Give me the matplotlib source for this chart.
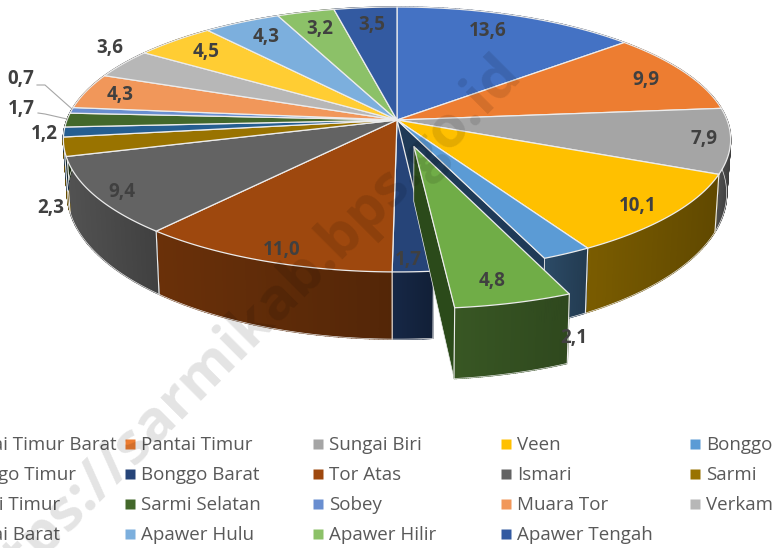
import numpy as np
import matplotlib
matplotlib.use('Agg')
import matplotlib.pyplot as plt
from matplotlib.colors import to_rgb

plt.rcParams['font.family'] = ['Open Sans', 'DejaVu Sans']

districts = ['Pantai Timur Barat', 'Pantai Timur', 'Sungai Biri', 'Veen', 'Bonggo',
             'Bonggo Timur', 'Bonggo Barat', 'Tor Atas', 'Ismari', 'Sarmi',
             'Sarmi Timur', 'Sarmi Selatan', 'Sobey', 'Muara Tor', 'Verkam',
             'Pantai Barat', 'Apawer Hulu', 'Apawer Hilir', 'Apawer Tengah']
shares = [13.6, 9.9, 7.9, 10.1, 2.1, 4.8, 1.7, 11.0, 9.4, 2.3,
          1.2, 1.7, 0.7, 4.3, 3.6, 4.5, 4.3, 3.2, 3.5]
colors = ['#4472C4', '#ED7D31', '#A5A5A5', '#FFC000', '#5B9BD5', '#70AD47', '#264478',
          '#9E480E', '#636363', '#997300', '#255E91', '#43682B', '#698ED0', '#F1975A',
          '#B7B7B7', '#FFCD33', '#7CAFDD', '#8CC168', '#335AA1']

# how dark the outer wall of a slice is
side_shade = {7: 0.6, 8: 0.74, 6: 0.52, 9: 0.6}
# where the value labels sit, in pixels
label_xy = [(488, 31), (646, 80), (704, 139), (638, 206), (574, 338), (492, 281),
            (408, 260), (282, 250), (122, 192), (51, 208), (44, 134), (21, 109),
            (21, 79), (120, 95), (110, 48), (206, 52), (266, 37), (320, 29), (372, 25)]

CX, CY = 397, 120
KX, KY = 330, 129.6
PERSP = 0.147
EXPLODED = 5
EXPLODE_BY = 0.205
EDGE = '#ececec'


def project(u, v, lower=False):
    w = 1 + PERSP * v
    x = KX * u / w
    y = -KY * v / w
    if lower:
        x = x * 0.988
        y = y * 1.1 + 52
    return CX + x, CY + y


def shade(color, f):
    return tuple(min(1, c * f) for c in to_rgb(color))


fig = plt.figure(figsize=(7.78, 5.48), dpi=100)
ax = fig.add_axes([0, 0, 1, 1])
ax.set_xlim(0, 778)
ax.set_ylim(548, 0)
ax.axis('off')

edges = np.cumsum([0] + shares) / sum(shares) * 2 * np.pi


def slice_offset(i):
    if i != EXPLODED:
        return 0, 0
    mid = (edges[i] + edges[i + 1]) / 2
    return EXPLODE_BY * np.sin(mid), EXPLODE_BY * np.cos(mid)


def arc(i, lower=False, n=60):
    t = np.linspace(edges[i], edges[i + 1], n)
    ou, ov = slice_offset(i)
    return project(np.sin(t) + ou, np.cos(t) + ov, lower)


def side_strips(i, base, spread, z):
    xt, yt = arc(i)
    xb, yb = arc(i, lower=True)
    n = len(xt) - 1
    for k in range(n):
        # lighter on the left of each wall, darker on the right
        pos = (xt[k] - xt.min()) / max(xt.max() - xt.min(), 1)
        c = shade(colors[i], base * (1 + spread / 2 - spread * pos))
        ax.fill([xt[k], xt[k + 1], xb[k + 1], xb[k]], [yt[k], yt[k + 1], yb[k + 1], yb[k]],
                fc=c, ec=c, lw=1.0, zorder=z)
    for k in (0, n):
        ax.plot([xt[k], xb[k]], [yt[k], yb[k]], color=EDGE, lw=0.8, zorder=z)
    ax.plot(xb, yb, color=EDGE, lw=0.5, zorder=z)


def draw_wall(i, angle, color, z):
    ou, ov = slice_offset(i)
    x0, y0 = project(ou, ov)
    x1, y1 = project(np.sin(angle) + ou, np.cos(angle) + ov)
    x2, y2 = project(np.sin(angle) + ou, np.cos(angle) + ov, lower=True)
    x3, y3 = project(ou, ov, lower=True)
    ax.fill([x0, x1, x2, x3], [y0, y1, y2, y3], color=color, ec=EDGE, lw=0.5, zorder=z)


def draw_top(i, z):
    xt, yt = arc(i)
    ou, ov = slice_offset(i)
    x0, y0 = project(ou, ov)
    ax.fill(np.r_[x0, xt], np.r_[y0, yt], color=colors[i], ec=EDGE, lw=0.9,
            joinstyle='round', zorder=z)


for i in range(len(shares)):
    if i != EXPLODED:
        side_strips(i, side_shade.get(i, 0.43), 0.24, 2)
draw_wall(4, edges[5], '#1f3a57', 3)
for i in range(len(shares)):
    if i != EXPLODED:
        draw_top(i, 4)

# pulled out slice goes over everything else
draw_wall(EXPLODED, edges[EXPLODED + 1], '#2b4a1a', 5)
side_strips(EXPLODED, 0.46, 0.18, 6)
draw_top(EXPLODED, 7)

# leader lines for the two thin slices
ax.plot([37, 45, 72], [85, 85, 109], color='#a6a6a6', lw=0.8, zorder=8)
ax.plot([38, 45, 67], [113, 114, 119], color='#a6a6a6', lw=0.8, zorder=8)

for v, (x, y) in zip(shares, label_xy):
    ax.text(x, y, f'{v:.1f}'.replace('.', ','), ha='center', va='center',
            fontsize=13.5, fontweight='bold', color='#404040', zorder=9)

# legend, five columns, first one runs off the left side
col_x = [-47, 141, 329, 517, 706]
row_y = [445, 475, 505, 535]
for i, name in enumerate(districts):
    r, c = divmod(i, 5)
    ax.plot(col_x[c] - 11, row_y[r] - 1, 's', ms=6.5, color=colors[i], mec='none', zorder=9)
    ax.text(col_x[c], row_y[r], name, ha='left', va='center', fontsize=13.5, color='#595959',
            zorder=9)

ax.text(512, 64, 'https://sarmikab.bps.go.id', rotation=45, rotation_mode='anchor',
        ha='right', va='center', fontsize=42, fontweight='bold', color='#000000', alpha=0.11,
        zorder=10)

fig.savefig('out.png', dpi=100)
